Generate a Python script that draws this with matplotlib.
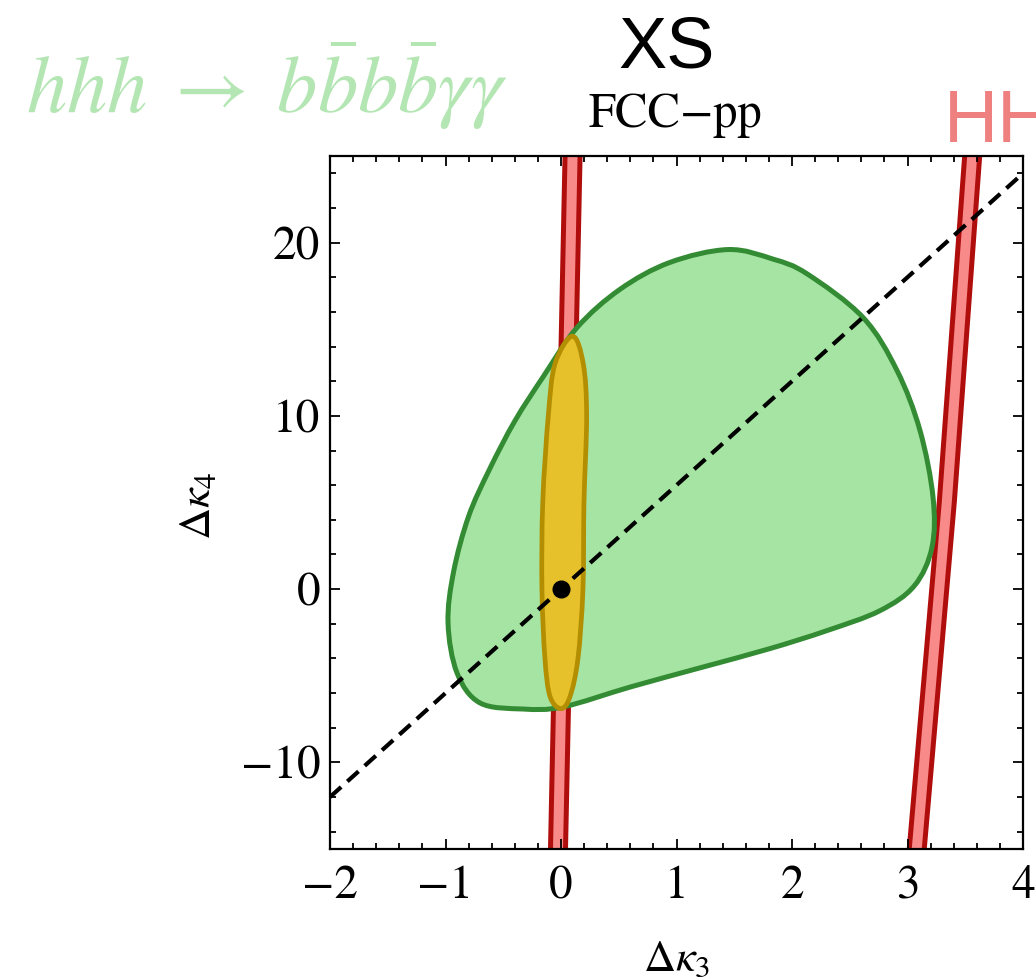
import numpy as np
import matplotlib.pyplot as plt
from matplotlib.path import Path
from matplotlib.patches import PathPatch
from matplotlib.ticker import MultipleLocator

plt.rcParams['font.family'] = ['STIXGeneral', 'DejaVu Sans']
plt.rcParams['mathtext.fontset'] = 'stix'

# hhh -> bbbb gamma gamma contour, clockwise from the top
green_k3 = [1.446, 1.835, 2.130, 2.615, 2.909, 3.108, 3.221, 3.212, 3.060, 2.760,
            2.300, 1.800, 1.200, 0.600, 0.017, -0.329, -0.701, -0.900, -0.978,
            -0.930, -0.800, -0.620, -0.400, -0.150, 0.139, 0.510, 0.940]
green_k4 = [19.60, 19.05, 18.20, 15.68, 12.62, 9.16, 5.30, 2.42, 0.20, -1.25,
            -2.40, -3.45, -4.55, -5.65, -6.80, -6.92, -6.57, -4.84, -1.96,
            1.00, 4.20, 6.90, 9.70, 12.30, 15.10, 17.30, 18.85]

# combined (yellow) contour
yellow_k3 = [0.100, 0.193, 0.222, 0.199, 0.190, 0.147, 0.078, 0.000,
             -0.095, -0.139, -0.165, -0.158, -0.110, -0.052]
yellow_k4 = [14.6, 13.0, 10.0, 5.0, 0.0, -4.0, -6.2, -6.9,
             -6.2, -4.0, 0.0, 5.0, 10.0, 13.0]

# HH bands (edges in dk3 at given dk4)
band1_k4 = [-15, 25]
band1_lo = [-0.091, 0.035]
band1_hi = [0.039, 0.165]
band2_k4 = [-15, 5, 25]
band2_lo = [3.015, 3.275, 3.495]
band2_hi = [3.145, 3.405, 3.625]

# dk4 = 6 dk3 line
line_k3 = [-2, 4]
line_k4 = [-12, 24]


def smooth_closed(xs, ys):
    p = np.column_stack([xs, ys])
    n = len(p)
    verts = [p[0]]
    codes = [Path.MOVETO]
    for i in range(n):
        p0, p1, p2, p3 = p[i - 1], p[i], p[(i + 1) % n], p[(i + 2) % n]
        verts += [p1 + (p2 - p0) / 6, p2 - (p3 - p1) / 6, p2]
        codes += [Path.CURVE4] * 3
    verts.append(p[0])
    codes.append(Path.CLOSEPOLY)
    return Path(verts, codes)


fig = plt.figure(figsize=(10.36, 9.77), dpi=100)
ax = fig.add_axes([330 / 1036, 128 / 977, 693 / 1036, 693 / 977])

red_fill = '#f98a8a'
red_edge = '#b00d0d'
for k4, lo, hi in [(band1_k4, band1_lo, band1_hi), (band2_k4, band2_lo, band2_hi)]:
    ax.fill_betweenx(k4, lo, hi, color=red_fill, lw=0, zorder=1)
    ax.plot(lo, k4, color=red_edge, lw=3.6, zorder=1.1)
    ax.plot(hi, k4, color=red_edge, lw=3.6, zorder=1.1)

ax.add_patch(PathPatch(smooth_closed(green_k3, green_k4), facecolor='#a5e4a3',
                       edgecolor='#338b33', lw=3.6, zorder=2))
ax.add_patch(PathPatch(smooth_closed(yellow_k3, yellow_k4), facecolor='#e6c12b',
                       edgecolor='#b38e00', lw=3.4, zorder=3))

ax.plot(line_k3, line_k4, color='black', lw=3.0, dashes=(3.6, 2.0), zorder=4)
ax.plot([0], [0], 'o', color='black', ms=12, zorder=5)

ax.set_xlim(-2, 4)
ax.set_ylim(-15, 25)
ax.xaxis.set_major_locator(MultipleLocator(1))
ax.xaxis.set_minor_locator(MultipleLocator(0.2))
ax.yaxis.set_major_locator(MultipleLocator(10))
ax.yaxis.set_minor_locator(MultipleLocator(2))
ax.tick_params(which='both', direction='in', top=True, right=True, width=1.3, labelsize=34)
ax.tick_params(which='major', length=7)
ax.tick_params(which='minor', length=4)
ax.tick_params(axis='x', pad=12)
ax.tick_params(axis='y', pad=7)
for s in ax.spines.values():
    s.set_linewidth(1.6)

ax.set_xlabel(r'$\Delta\kappa_3$', fontsize=32)
ax.set_ylabel(r'$\Delta\kappa_4$', fontsize=32)
ax.xaxis.set_label_coords(0.5, -0.133)
ax.yaxis.set_label_coords(-0.16, 0.495)

fig.text(667 / 1036, 1 - 68 / 977, 'XS', family='Liberation Sans', fontsize=52,
         ha='center', va='baseline')
fig.text(675 / 1036, 1 - 127 / 977, 'FCC\u2212pp', fontsize=35, ha='center', va='baseline')
fig.text(26 / 1036, 1 - 113 / 977, r'$hhh\;\rightarrow\;b\bar{b}b\bar{b}\gamma\gamma$',
         fontsize=58, color='#b4e6b4', ha='left', va='baseline')
fig.text(944 / 1036, 1 - 142 / 977, 'HH', family='Liberation Sans', fontsize=54,
         color='#ef8080', ha='left', va='baseline')

fig.savefig('out.png', dpi=100)
